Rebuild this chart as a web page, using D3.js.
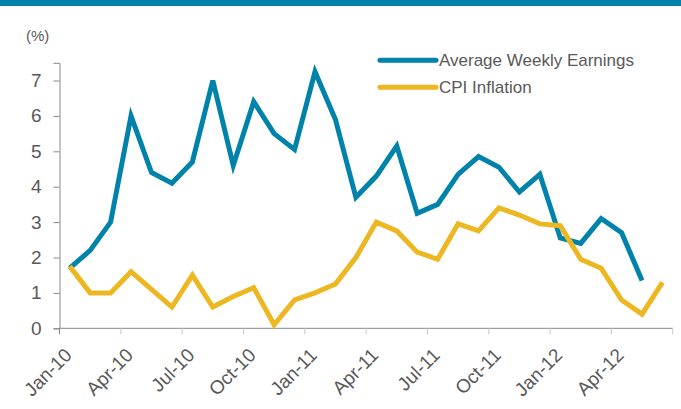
<!DOCTYPE html>
<html>
<head>
<meta charset="utf-8">
<script src="https://cdn.jsdelivr.net/npm/d3@7"></script>
<style>
  body { margin: 0; background: #fff; }
  text { font-family: "Liberation Sans", Arial, sans-serif; fill: #595959; }
</style>
</head>
<body>
<div id="chart"></div>
<script>
"use strict";

// months Jan-10 .. Jun-12
const months = d3.range(30).map(function(i) {
  return d3.timeFormat("%b-%y")(new Date(2010, i, 1));
});
const tickMonths = ["Jan-10", "Apr-10", "Jul-10", "Oct-10", "Jan-11", "Apr-11",
                    "Jul-11", "Oct-11", "Jan-12", "Apr-12"];
const yTicks = [0, 1, 2, 3, 4, 5, 6, 7];

const earnings = [1.7, 2.2, 3.0, 6.0, 4.4, 4.1, 4.7, 7.0, 4.6, 6.4,
                  5.5, 5.05, 7.25, 5.9, 3.7, 4.3, 5.15, 3.25, 3.5, 4.35,
                  4.85, 4.55, 3.85, 4.35, 2.55, 2.4, 3.1, 2.7, 1.35];
const cpi = [1.75, 1.0, 1.0, 1.6, 1.1, 0.6, 1.5, 0.6, 0.9, 1.15,
             0.1, 0.8, 1.0, 1.25, 2.0, 3.0, 2.75, 2.15, 1.95, 2.95,
             2.75, 3.4, 3.2, 2.95, 2.9, 1.95, 1.7, 0.8, 0.4, 1.3];

const series = [
  { name: "Average Weekly Earnings", values: earnings, color: "#0083aa" },
  { name: "CPI Inflation", values: cpi, color: "#edb722" }
];

const width = 681, height = 409;
const margin = { left: 59.5, top: 62.8, right: 8.3, bottom: 80.7 };
const w = width - margin.left - margin.right,
      h = height - margin.top - margin.bottom;

const svg = d3.select("#chart")
  .append("svg")
    .attr("width", width)
    .attr("height", height);

// top band
svg.append("rect")
  .attr("x", 0).attr("y", 0)
  .attr("width", width).attr("height", 6)
  .attr("fill", "#0082aa");

svg.append("text")
  .attr("x", 26).attr("y", 41)
  .style("font-size", "15px")
  .text("(%)");

const chart = svg.append("g")
  .attr("transform", "translate(" + margin.left + "," + margin.top + ")");

const x = d3.scaleBand().domain(months).range([0, w]),
      y = d3.scaleLinear().domain([0, 7.5]).range([h, 0]);

// y axis
const yAxis = chart.append("g")
  .call(d3.axisLeft(y).tickValues(yTicks).tickSize(6).tickPadding(12));
yAxis.select(".domain").attr("stroke", "#888");
yAxis.selectAll(".tick line").attr("stroke", "#888");
yAxis.selectAll(".tick text")
  .style("font-size", "19px")
  .attr("fill", "#595959");

// x axis: ticks on month boundaries every quarter
const xAxis = chart.append("g")
  .attr("transform", "translate(0," + h + ")");
xAxis.append("line")
  .attr("x1", 0).attr("x2", w)
  .attr("stroke", "#888");
const boundaries = tickMonths.map(function(m) { return x(m); }).concat([w]);
xAxis.selectAll("line.tick")
  .data(boundaries)
  .join("line")
    .attr("class", "tick")
    .attr("x1", function(d) { return d; })
    .attr("x2", function(d) { return d; })
    .attr("y1", 0).attr("y2", 6)
    .attr("stroke", function(d, i) { return i === 0 ? "#888" : "#c8c8c8"; });
xAxis.selectAll("text")
  .data(tickMonths)
  .join("text")
    .attr("transform", function(d) {
      return "translate(" + (x(d) + 13.5) + ",28) rotate(-45)";
    })
    .attr("text-anchor", "end")
    .style("font-size", "19px")
    .text(function(d) { return d; });

// lines
const line = d3.line()
  .x(function(d, i) { return x(months[i]) + x.bandwidth() / 2; })
  .y(function(d) { return y(d); });

chart.selectAll("path.series")
  .data(series)
  .join("path")
    .attr("class", "series")
    .attr("fill", "none")
    .attr("stroke", function(d) { return d.color; })
    .attr("stroke-width", 5)
    .attr("stroke-linejoin", "miter")
    .attr("d", function(d) { return line(d.values); });

// legend
const legend = svg.append("g")
  .selectAll("g")
  .data(series)
  .join("g")
    .attr("transform", function(d, i) { return "translate(380," + (60.3 + i * 27) + ")"; });
legend.append("line")
  .attr("x1", 0).attr("x2", 56)
  .attr("stroke", function(d) { return d.color; })
  .attr("stroke-width", 5)
  .attr("stroke-linecap", "round");
legend.append("text")
  .attr("x", 59)
  .attr("y", 6)
  .style("font-size", "17px")
  .text(function(d) { return d.name; });
</script>
</body>
</html>
